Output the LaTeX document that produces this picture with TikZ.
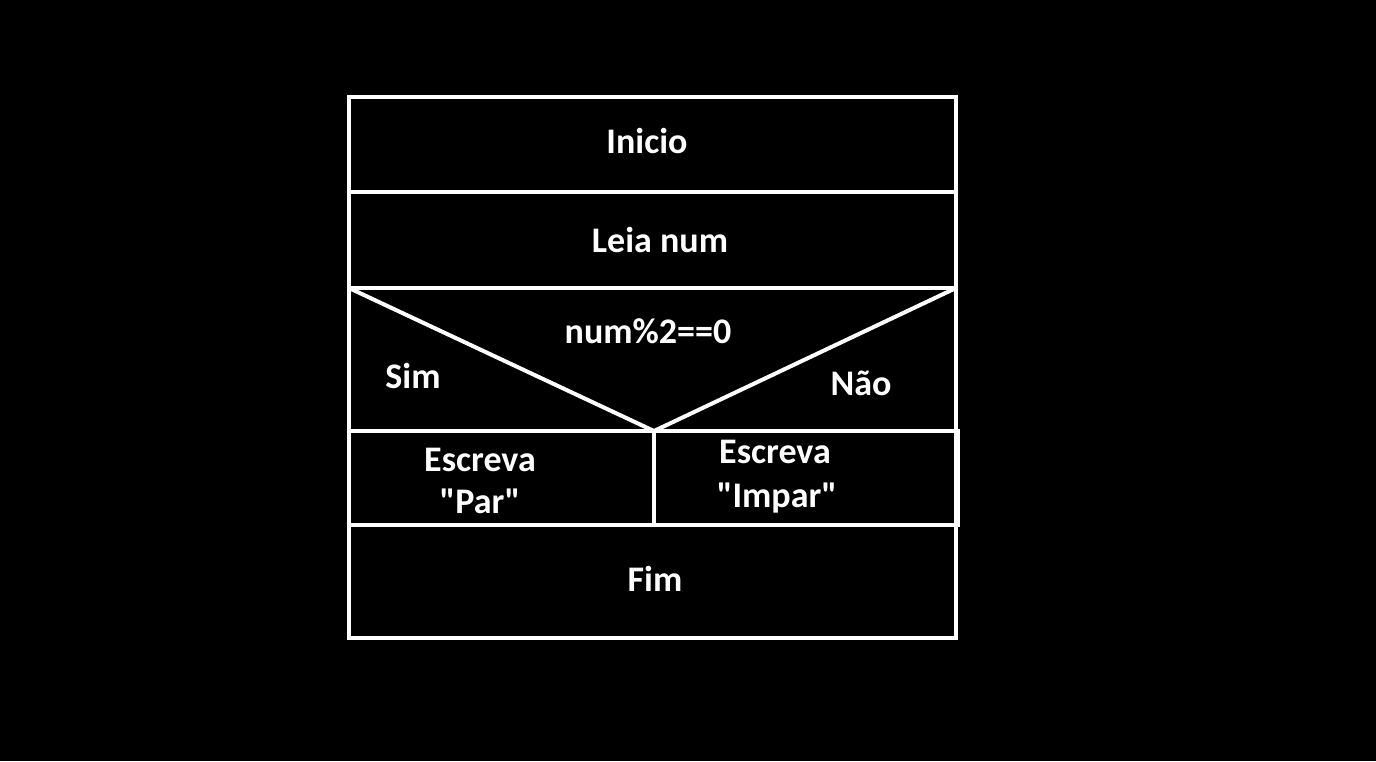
\documentclass[tikz,border=0pt]{standalone}
\usepackage{fontspec}
\setmainfont{Carlito}[Ligatures=TeXOff]
\begin{document}
\begin{tikzpicture}[x=1pt,y=-1pt,
  frame/.style={draw=white,line width=4pt},
  lbl/.style={text=white,font=\bfseries\fontsize{36}{42}\selectfont,anchor=base,inner sep=0pt}]
\fill[black] (0,0) rectangle (1376,761);
\useasboundingbox (0,0) rectangle (1376,761);
% corners
\coordinate (tl) at (349,97);
\coordinate (tr) at (956,97);
\coordinate (bl) at (349,638);
\coordinate (br) at (956,638);
\coordinate (l1) at (349,192); \coordinate (r1) at (956,192);
\coordinate (l2) at (349,288); \coordinate (r2) at (956,288);
\coordinate (l3) at (349,431); \coordinate (r3) at (958,431);
\coordinate (l4) at (349,525); \coordinate (r4) at (958,525);
\coordinate (apex) at (654,431);
\coordinate (vb) at (654,525);
% outer frame
\draw[frame] (tl) -- (tr) -- (br) -- (bl) -- cycle;
\draw[frame] (l1) -- (r1);
\draw[frame] (l2) -- (r2);
\draw[frame] (l3) -- (r3) -- (r4) -- (l4);
\draw[frame] (l2) -- (apex) -- (r2);
\draw[frame] (apex) -- (vb);
% labels
\node[lbl] (inicio) at (647,153) {Inicio};
\node[lbl] (leia) at (660,252) {Leia num};
\node[lbl] (cond) at (648,343) {num\%2==0};
\node[lbl] (sim) at (413,388) {Sim};
\node[lbl] (nao) at (861,395) {Não};
\node[lbl] (par1) at (480,471) {Escreva};
\node[lbl] (par2) at (480,513) {"Par"};
\node[lbl] (impar1) at (775,463) {Escreva};
\node[lbl] (impar2) at (777,507) {"Impar"};
\node[lbl] (fim) at (655,591) {Fim};
\end{tikzpicture}
\end{document}
